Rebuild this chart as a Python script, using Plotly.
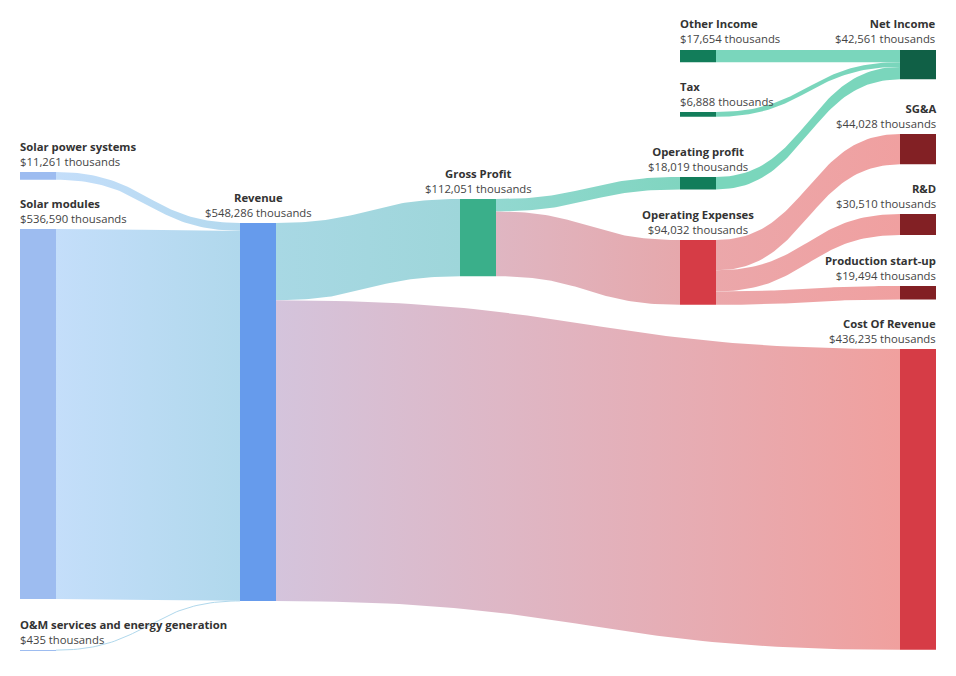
import numpy as np
import plotly.graph_objects as go

# ---------------- data ----------------
node_names = [
    "Solar power systems", "Solar modules", "O&M services and energy generation",
    "Revenue", "Gross Profit", "Cost Of Revenue",
    "Operating profit", "Operating Expenses", "Other Income", "Tax",
    "Net Income", "SG&A", "R&D", "Production start-up",
]
link_source = ["Solar power systems", "Solar modules", "O&M services and energy generation",
               "Revenue", "Revenue", "Gross Profit", "Gross Profit",
               "Operating profit", "Other Income", "Tax",
               "Operating Expenses", "Operating Expenses", "Operating Expenses"]
link_target = ["Revenue", "Revenue", "Revenue",
               "Gross Profit", "Cost Of Revenue", "Operating profit", "Operating Expenses",
               "Net Income", "Net Income", "Net Income",
               "SG&A", "R&D", "Production start-up"]
link_value = [11261, 536590, 435,
              112051, 436235, 18019, 94032,
              18019, 17654, 6888,
              44028, 30510, 19494]
unit_label = "thousands"

# ---------------- layout / style ----------------
W, H = 956, 676
PAGE_OFF = 8          # default body margin of the page
col_x = [20, 240, 460, 680, 900]
node_w = 36
px_per_unit = 370 / 536590
node_col = {
    "Solar power systems": 0, "Solar modules": 0, "O&M services and energy generation": 0,
    "Revenue": 1, "Gross Profit": 2,
    "Operating profit": 3, "Operating Expenses": 3, "Other Income": 3, "Tax": 3,
    "Net Income": 4, "SG&A": 4, "R&D": 4, "Production start-up": 4, "Cost Of Revenue": 4,
}
node_top = {
    "Solar power systems": 172, "Solar modules": 229, "O&M services and energy generation": 650,
    "Revenue": 223, "Gross Profit": 199,
    "Other Income": 50, "Tax": 112, "Operating profit": 177, "Operating Expenses": 240,
    "Net Income": 50, "SG&A": 134, "R&D": 214, "Production start-up": 286, "Cost Of Revenue": 349,
}
node_color = {
    "Solar power systems": "#9dbcf0", "Solar modules": "#9dbcf0",
    "O&M services and energy generation": "#9dbcf0",
    "Revenue": "#669bec", "Gross Profit": "#3aaf8a",
    "Operating profit": "#127d5a", "Other Income": "#127d5a", "Tax": "#127d5a",
    "Net Income": "#106046",
    "Operating Expenses": "#d63c46", "Cost Of Revenue": "#d63c46",
    "SG&A": "#822024", "R&D": "#822024", "Production start-up": "#822024",
}
link_colors = [
    ("#c4defa", "#b3d9ee"), ("#c4defa", "#b0d8ec"), ("#c4defa", "#b0d8ec"),
    ("#a8d8e4", "#9ed6da"), ("#d4c4dc", "#f0a09e"),
    ("#92d8d0", "#80d5c0"), ("#dfb6c2", "#e6a8ac"),
    ("#7ad6bc", "#7ad6bc"), ("#7ad6bc", "#7ad6bc"), ("#7ad6bc", "#7ad6bc"),
    ("#eba7aa", "#f0a0a0"), ("#eba7aa", "#f0a0a0"), ("#eba7aa", "#f0a0a0"),
]
left_label_nodes = {"Other Income", "Tax"}
font_family = "Open Sans, Noto Sans, sans-serif"

# ---------------- compute node geometry ----------------
in_sum = {n: 0 for n in node_names}
out_sum = {n: 0 for n in node_names}
for s, t, v in zip(link_source, link_target, link_value):
    out_sum[s] += v
    in_sum[t] += v
node_value = {n: max(in_sum[n], out_sum[n]) for n in node_names}
node_h = {n: node_value[n] * px_per_unit for n in node_names}
node_x0 = {n: col_x[node_col[n]] for n in node_names}

# link offsets: order outflows by target top, inflows by source top
src_off = {n: node_top[n] for n in node_names}
tgt_off = {n: node_top[n] for n in node_names}
idx = list(range(len(link_value)))
link_geom = {}
for i in sorted(idx, key=lambda k: (link_source[k], node_top[link_target[k]])):
    s = link_source[i]
    h = link_value[i] * px_per_unit
    link_geom.setdefault(i, {})["s"] = (src_off[s], src_off[s] + h)
    src_off[s] += h
for i in sorted(idx, key=lambda k: (link_target[k], node_top[link_source[k]])):
    t = link_target[i]
    h = link_value[i] * px_per_unit
    link_geom[i]["t"] = (tgt_off[t], tgt_off[t] + h)
    tgt_off[t] += h

fig = go.Figure()

t = np.linspace(0, 1, 60)
b0, b1, b2, b3 = (1 - t) ** 3, 3 * (1 - t) ** 2 * t, 3 * (1 - t) * t ** 2, t ** 3
for i in idx:
    s, tg = link_source[i], link_target[i]
    xa = node_x0[s] + node_w
    xb = node_x0[tg]
    xm = (xa + xb) / 2
    xs = b0 * xa + (b1 + b2) * xm + b3 * xb
    (ys0, ys1), (yt0, yt1) = link_geom[i]["s"], link_geom[i]["t"]
    top = (b0 + b1) * ys0 + (b2 + b3) * yt0
    bot = (b0 + b1) * ys1 + (b2 + b3) * yt1
    c0, c1 = link_colors[i]
    if ys1 - ys0 < 1.0:
        # hairline link: draw as a thin curve so it stays visible
        fig.add_trace(go.Scatter(
            x=xs, y=(top + bot) / 2, mode="lines", line=dict(width=1, color=c1),
            hoverinfo="skip", showlegend=False,
        ))
        continue
    px = np.concatenate([xs, xs[::-1], xs[:1]])
    py = np.concatenate([top, bot[::-1], top[:1]])
    fig.add_trace(go.Scatter(
        x=px, y=py, mode="lines", line=dict(width=0), fill="toself",
        fillcolor=c0,
        fillgradient=dict(type="horizontal", colorscale=[[0, c0], [1, c1]]),
        hoverinfo="skip", showlegend=False,
    ))

for n in node_names:
    x0, x1 = node_x0[n], node_x0[n] + node_w
    y0 = node_top[n]
    y1 = y0 + max(node_h[n], 1.0)
    fig.add_trace(go.Scatter(
        x=[x0, x1, x1, x0, x0], y=[y0, y0, y1, y1, y0], mode="lines",
        line=dict(width=0), fill="toself", fillcolor=node_color[n],
        hoverinfo="skip", showlegend=False,
    ))
    col = node_col[n]
    if col == 0 or n in left_label_nodes:
        ax, xa_, shift = x0, "left", -2
    elif col == 4:
        ax, xa_, shift = x1, "right", 2
    else:
        ax, xa_, shift = (x0 + x1) / 2, "center", 0
    fig.add_annotation(
        x=ax, y=y0 - 1.5, xref="x", yref="y", xanchor=xa_, yanchor="bottom",
        xshift=shift, align=xa_, showarrow=False,
        text=f"<b>{n}</b><br><span style='color:#444'>${node_value[n]:,} {unit_label}</span>",
        font=dict(family=font_family, size=11.3, color="#333"),
    )

fig.update_layout(
    width=W - 2 * PAGE_OFF, height=H - 2 * PAGE_OFF, margin=dict(l=0, r=0, t=0, b=0),
    paper_bgcolor="white", plot_bgcolor="white",
    xaxis=dict(range=[PAGE_OFF, W - PAGE_OFF], visible=False, fixedrange=True),
    yaxis=dict(range=[H - PAGE_OFF, PAGE_OFF], visible=False, fixedrange=True),
)
fig.write_html("out.html")
